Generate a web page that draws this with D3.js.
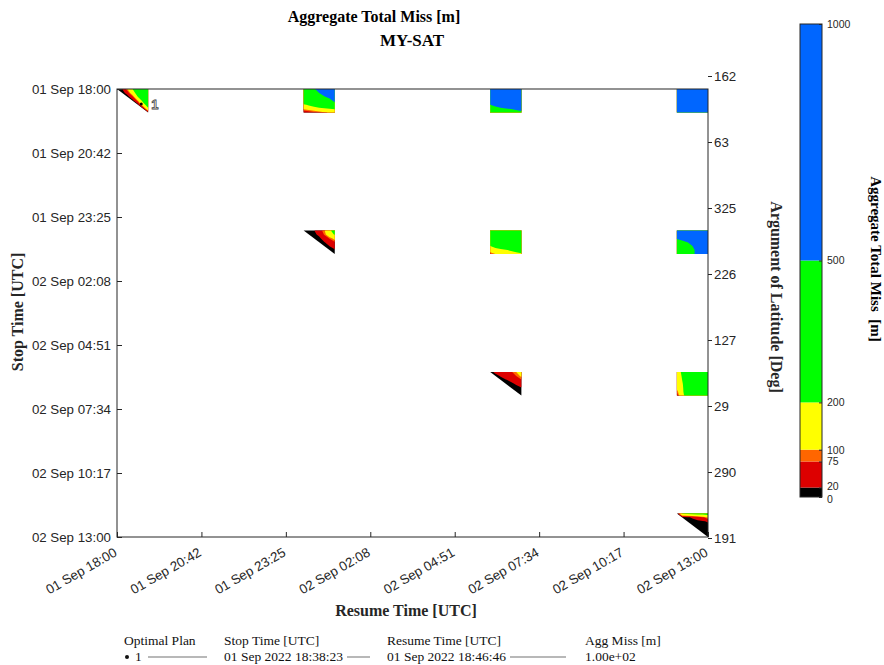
<!DOCTYPE html>
<html><head><meta charset="utf-8">
<script src="https://cdn.jsdelivr.net/npm/d3@7"></script>
<style>
body{margin:0;background:#fff}
svg{display:block}
</style>
</head><body>
<svg id="c" width="884" height="665"></svg>
<script>
// ---------------- DATA ----------------
const xTickLabels = ["01 Sep 18:00","01 Sep 20:42","01 Sep 23:25","02 Sep 02:08","02 Sep 04:51","02 Sep 07:34","02 Sep 10:17","02 Sep 13:00"];
const yTickLabels = ["01 Sep 18:00","01 Sep 20:42","01 Sep 23:25","02 Sep 02:08","02 Sep 04:51","02 Sep 07:34","02 Sep 10:17","02 Sep 13:00"];
const latTickLabels = ["162","63","325","226","127","29","290","191"];
const levels = [0, 20, 75, 100, 200, 500, 1000];
const levelColors = ["#000000", "#dd0000", "#ff6600", "#ffff00", "#00ff00", "#0066ff"];
// one-hour windows, hours after 01 Sep 18:00 UTC
const blockHours = [0, 6, 12, 18];
const gridMinutes = [0, 10, 20, 30, 40, 50, 60];
// rows = stop time offset, cols = resume time offset (minutes in gridMinutes)
const miss_s0_r0 = [
  [0, 20, 100, 200, 300, 350, 400],
  [0, 0, 40, 150, 250, 320, 380],
  [0, 0, 0, 60, 200, 280, 350],
  [0, 0, 0, 0, 90, 230, 320],
  [0, 0, 0, 0, 0, 150, 260],
  [0, 0, 0, 0, 0, 0, 180],
  [0, 0, 0, 0, 0, 0, 0]];
const miss_s0_r1 = [
  [450, 470, 495, 520, 545, 570, 600],
  [430, 450, 475, 500, 525, 550, 575],
  [400, 420, 445, 470, 495, 520, 550],
  [330, 350, 375, 400, 430, 470, 520],
  [180, 220, 260, 300, 350, 410, 470],
  [110, 130, 150, 170, 185, 200, 215],
  [40, 50, 60, 72, 90, 110, 130]];
const miss_s0_r2 = [
  [780, 800, 820, 840, 860, 880, 900],
  [740, 760, 780, 800, 820, 840, 860],
  [680, 700, 720, 740, 760, 780, 800],
  [600, 620, 640, 660, 680, 700, 720],
  [500, 530, 560, 580, 600, 610, 620],
  [440, 460, 480, 495, 505, 515, 530],
  [380, 400, 420, 440, 455, 470, 480]];
const miss_s0_r3 = [
  [880, 890, 900, 910, 920, 930, 940],
  [860, 870, 880, 890, 900, 910, 920],
  [840, 850, 860, 870, 880, 890, 900],
  [820, 830, 840, 850, 860, 870, 880],
  [800, 810, 820, 830, 840, 850, 860],
  [780, 790, 800, 810, 820, 830, 840],
  [760, 770, 780, 790, 800, 810, 820]];
const miss_s1_r1 = [
  [0, 8, 18, 50, 95, 180, 260],
  [0, 0, 10, 30, 80, 150, 210],
  [0, 0, 0, 12, 40, 80, 120],
  [0, 0, 0, 0, 18, 40, 70],
  [0, 0, 0, 0, 0, 20, 40],
  [0, 0, 0, 0, 0, 0, 15],
  [0, 0, 0, 0, 0, 0, 0]];
const miss_s1_r2 = [
  [400, 410, 420, 430, 440, 450, 460],
  [380, 390, 400, 410, 420, 430, 440],
  [340, 350, 360, 370, 380, 390, 400],
  [280, 300, 310, 320, 330, 340, 350],
  [195, 230, 250, 265, 275, 285, 295],
  [140, 160, 180, 195, 210, 225, 240],
  [70, 100, 120, 140, 160, 180, 190]];
const miss_s1_r3 = [
  [650, 700, 740, 770, 800, 820, 840],
  [600, 660, 710, 750, 780, 800, 820],
  [520, 580, 640, 700, 750, 790, 810],
  [400, 440, 495, 560, 640, 720, 780],
  [370, 400, 440, 498, 570, 660, 740],
  [350, 380, 420, 470, 540, 630, 720],
  [340, 370, 420, 480, 530, 610, 700]];
const miss_s2_r2 = [
  [0, 35, 50, 60, 68, 100, 140],
  [0, 0, 25, 40, 50, 75, 110],
  [0, 0, 0, 18, 30, 50, 72],
  [0, 0, 0, 0, 12, 25, 45],
  [0, 0, 0, 0, 0, 8, 18],
  [0, 0, 0, 0, 0, 0, 8],
  [0, 0, 0, 0, 0, 0, 0]];
const miss_s2_r3 = [
  [170, 210, 280, 350, 400, 430, 450],
  [160, 205, 275, 345, 395, 425, 445],
  [150, 200, 270, 340, 390, 420, 440],
  [140, 190, 260, 330, 380, 410, 430],
  [120, 185, 255, 320, 370, 400, 420],
  [80, 180, 260, 300, 350, 380, 400],
  [50, 170, 250, 280, 330, 360, 380]];
const miss_s3_r3 = [
  [0, 210, 230, 240, 250, 255, 260],
  [0, 0, 15, 25, 45, 65, 110],
  [0, 0, 0, 8, 12, 16, 25],
  [0, 0, 0, 0, 4, 6, 8],
  [0, 0, 0, 0, 0, 2, 4],
  [0, 0, 0, 0, 0, 0, 2],
  [0, 0, 0, 0, 0, 0, 0]];
const patches = [
  {stop: 0, resume: 0, values: miss_s0_r0},
  {stop: 0, resume: 1, values: miss_s0_r1},
  {stop: 0, resume: 2, values: miss_s0_r2},
  {stop: 0, resume: 3, values: miss_s0_r3},
  {stop: 1, resume: 1, values: miss_s1_r1},
  {stop: 1, resume: 2, values: miss_s1_r2},
  {stop: 1, resume: 3, values: miss_s1_r3},
  {stop: 2, resume: 2, values: miss_s2_r2},
  {stop: 2, resume: 3, values: miss_s2_r3},
  {stop: 3, resume: 3, values: miss_s3_r3}];
const optimalPlan = {label: "1", stop: "2022-09-01T18:38:23Z", resume: "2022-09-01T18:46:46Z", miss: 100,
  stopText: "01 Sep 2022 18:38:23", resumeText: "01 Sep 2022 18:46:46", missText: "1.00e+02"};
const cbTicks = [0, 20, 75, 100, 200, 500, 1000];

// ---------------- DRAW ----------------
const svg = d3.select("#c");
const defs = svg.append("defs");
const ink = "#262626";
const sans = "'Liberation Sans', Arial, sans-serif";
const serif = "'Liberation Serif', 'Times New Roman', serif";

const t0 = new Date(Date.UTC(2022, 8, 1, 18, 0, 0));
const t1 = new Date(Date.UTC(2022, 8, 2, 13, 0, 0));
const L = 117, R = 708, T = 89, B = 537;
const x = d3.scaleUtc().domain([t0, t1]).range([L, R]);
const y = d3.scaleUtc().domain([t0, t1]).range([T, B]);
const tickDates = xTickLabels.map((_, i) => new Date(+t0 + i * (t1 - t0) / 7));

const plot = svg.append("g");
const n = gridMinutes.length;
const contourGen = d3.contours().size([n, n]).thresholds(levels.slice(0, levelColors.length));
const stepMs = (gridMinutes[1] - gridMinutes[0]) * 60e3;

patches.forEach((p, k) => {
  const sStart = +t0 + blockHours[p.stop] * 3600e3;
  const rStart = +t0 + blockHours[p.resume] * 3600e3;
  const span = gridMinutes[n - 1] * 60e3;
  const xs = c => x(new Date(rStart + (c - 0.5) * stepMs));
  const ys = c => y(new Date(sStart + (c - 0.5) * stepMs));
  const proj = d3.geoTransform({point(px, py) { this.stream.point(xs(px), ys(py)); }});
  const path = d3.geoPath(proj);
  const x0 = x(new Date(rStart)), x1 = x(new Date(rStart + span));
  const y0 = y(new Date(sStart)), y1 = y(new Date(sStart + span));
  const id = "clip" + k;
  defs.append("clipPath").attr("id", id).append("path")
    .attr("d", p.stop === p.resume ? `M${x0},${y0}L${x1},${y0}L${x1},${y1}Z` : `M${x0},${y0}H${x1}V${y1}H${x0}Z`);
  plot.append("g").attr("clip-path", `url(#${id})`)
    .selectAll("path").data(contourGen(p.values.flat())).join("path")
    .attr("d", path).attr("fill", (d, i) => levelColors[i]).attr("stroke", "none");
});

// optimal plan marker
const ox = x(new Date(optimalPlan.resume)), oy = y(new Date(optimalPlan.stop));
svg.append("circle").attr("cx", ox).attr("cy", oy).attr("r", 1.5).attr("fill", "#000");
svg.append("text").attr("x", ox + 10).attr("y", oy).attr("dy", "0.35em")
  .attr("font-family", sans).attr("font-size", 13).attr("font-weight", "bold")
  .attr("fill", "#fff").attr("stroke", "#444").attr("stroke-width", 0.8).text(optimalPlan.label);

// axes
function styleAxis(g) {
  g.select(".domain").remove();
  g.selectAll(".tick line").attr("stroke", ink);
  g.selectAll(".tick text").attr("fill", ink).attr("font-family", sans).attr("font-size", 13.3);
}
const gx = svg.append("g").attr("transform", `translate(0,${B})`)
  .call(d3.axisBottom(x).tickValues(tickDates).tickFormat((d, i) => xTickLabels[i]).tickSizeInner(-5).tickSizeOuter(0).tickPadding(0))
  .call(styleAxis);
gx.selectAll(".tick text").attr("y", 0).attr("dy", "0.35em").attr("text-anchor", "end")
  .attr("transform", "translate(-2,14) rotate(-30)");

svg.append("g").attr("transform", `translate(${L},0)`)
  .call(d3.axisLeft(y).tickValues(tickDates).tickFormat((d, i) => yTickLabels[i]).tickSizeInner(-5).tickSizeOuter(0).tickPadding(6))
  .call(styleAxis);

const yLat = d3.scaleLinear().domain([0, latTickLabels.length - 1]).range([76, 538]);
svg.append("g").attr("transform", `translate(${R},0)`)
  .call(d3.axisRight(yLat).tickValues(d3.range(latTickLabels.length)).tickFormat(i => latTickLabels[i]).tickSizeInner(4).tickSizeOuter(0).tickPadding(2))
  .call(styleAxis);

// box
svg.append("rect").attr("x", L).attr("y", T).attr("width", R - L).attr("height", B - T)
  .attr("fill", "none").attr("stroke", ink).attr("stroke-width", 1);

// titles
svg.append("text").attr("x", 374).attr("y", 22).attr("text-anchor", "middle")
  .attr("font-family", serif).attr("font-weight", "bold").attr("font-size", 16).attr("fill", "#000")
  .text("Aggregate Total Miss [m]");
svg.append("text").attr("x", 412).attr("y", 46).attr("text-anchor", "middle")
  .attr("font-family", serif).attr("font-weight", "bold").attr("font-size", 17).attr("fill", "#000")
  .text("MY-SAT");
svg.append("text").attr("x", 406).attr("y", 616).attr("text-anchor", "middle")
  .attr("font-family", serif).attr("font-weight", "bold").attr("font-size", 16).attr("fill", ink)
  .text("Resume Time [UTC]");
svg.append("text").attr("transform", "translate(23,312) rotate(-90)").attr("text-anchor", "middle")
  .attr("font-family", serif).attr("font-weight", "bold").attr("font-size", 16).attr("fill", ink)
  .text("Stop Time [UTC]");
svg.append("text").attr("transform", "translate(771,297) rotate(90)").attr("text-anchor", "middle")
  .attr("font-family", serif).attr("font-weight", "bold").attr("font-size", 16).attr("fill", ink)
  .text("Argument of Latitude [Deg]");

// colorbar
const cb = d3.scaleLinear().domain([levels[0], levels[levels.length - 1]]).range([497, 24]);
const cbX = 800, cbW = 22;
const cbG = svg.append("g");
cbG.selectAll("rect.band").data(levelColors).join("rect").attr("class", "band")
  .attr("x", cbX).attr("width", cbW)
  .attr("y", (d, i) => cb(levels[i + 1])).attr("height", (d, i) => cb(levels[i]) - cb(levels[i + 1]))
  .attr("fill", d => d);
cbG.append("rect").attr("x", cbX).attr("y", cb(1000)).attr("width", cbW).attr("height", cb(0) - cb(1000))
  .attr("fill", "none").attr("stroke", ink).attr("stroke-width", 1);
const cbAxis = cbG.append("g").attr("transform", `translate(${cbX + cbW},0)`)
  .call(d3.axisRight(cb).tickValues(cbTicks).tickFormat(d3.format("d")).tickSizeInner(-3).tickSizeOuter(0).tickPadding(5))
  .call(g => { g.select(".domain").remove(); g.selectAll(".tick line").attr("stroke", ink);
    g.selectAll(".tick text").attr("fill", ink).attr("font-family", sans).attr("font-size", 10.5); });
cbAxis.selectAll(".tick text").filter(d => d === 0).attr("dy", "0.55em");
cbAxis.selectAll(".tick text").filter(d => d === 20).attr("dy", "0.2em");
svg.append("text").attr("transform", "translate(871,259) rotate(90)").attr("text-anchor", "middle")
  .attr("font-family", serif).attr("font-weight", "bold").attr("font-size", 15).attr("fill", "#000")
  .text("Aggregate Total Miss  [m]").style("white-space", "pre");

// legend table
const lg = svg.append("g").attr("font-family", serif).attr("font-size", 13.5).attr("fill", "#111");
const headers = [["Optimal Plan", 124], ["Stop Time [UTC]", 224], ["Resume Time [UTC]", 387], ["Agg Miss [m]", 585]];
lg.selectAll("text.h").data(headers).join("text").attr("class", "h")
  .attr("x", d => d[1]).attr("y", 645).text(d => d[0]);
lg.append("circle").attr("cx", 127).attr("cy", 657).attr("r", 2).attr("fill", "#111");
lg.append("text").attr("x", 135).attr("y", 661).text(optimalPlan.label);
lg.append("text").attr("x", 224).attr("y", 661).text(optimalPlan.stopText);
lg.append("text").attr("x", 387).attr("y", 661).text(optimalPlan.resumeText);
lg.append("text").attr("x", 585).attr("y", 661).text(optimalPlan.missText);
const seps = [[148, 207], [347, 370], [510, 566]];
lg.selectAll("line").data(seps).join("line")
  .attr("x1", d => d[0]).attr("x2", d => d[1]).attr("y1", 657).attr("y2", 657)
  .attr("stroke", "#333").attr("stroke-width", 0.7);
</script>
</body></html>
